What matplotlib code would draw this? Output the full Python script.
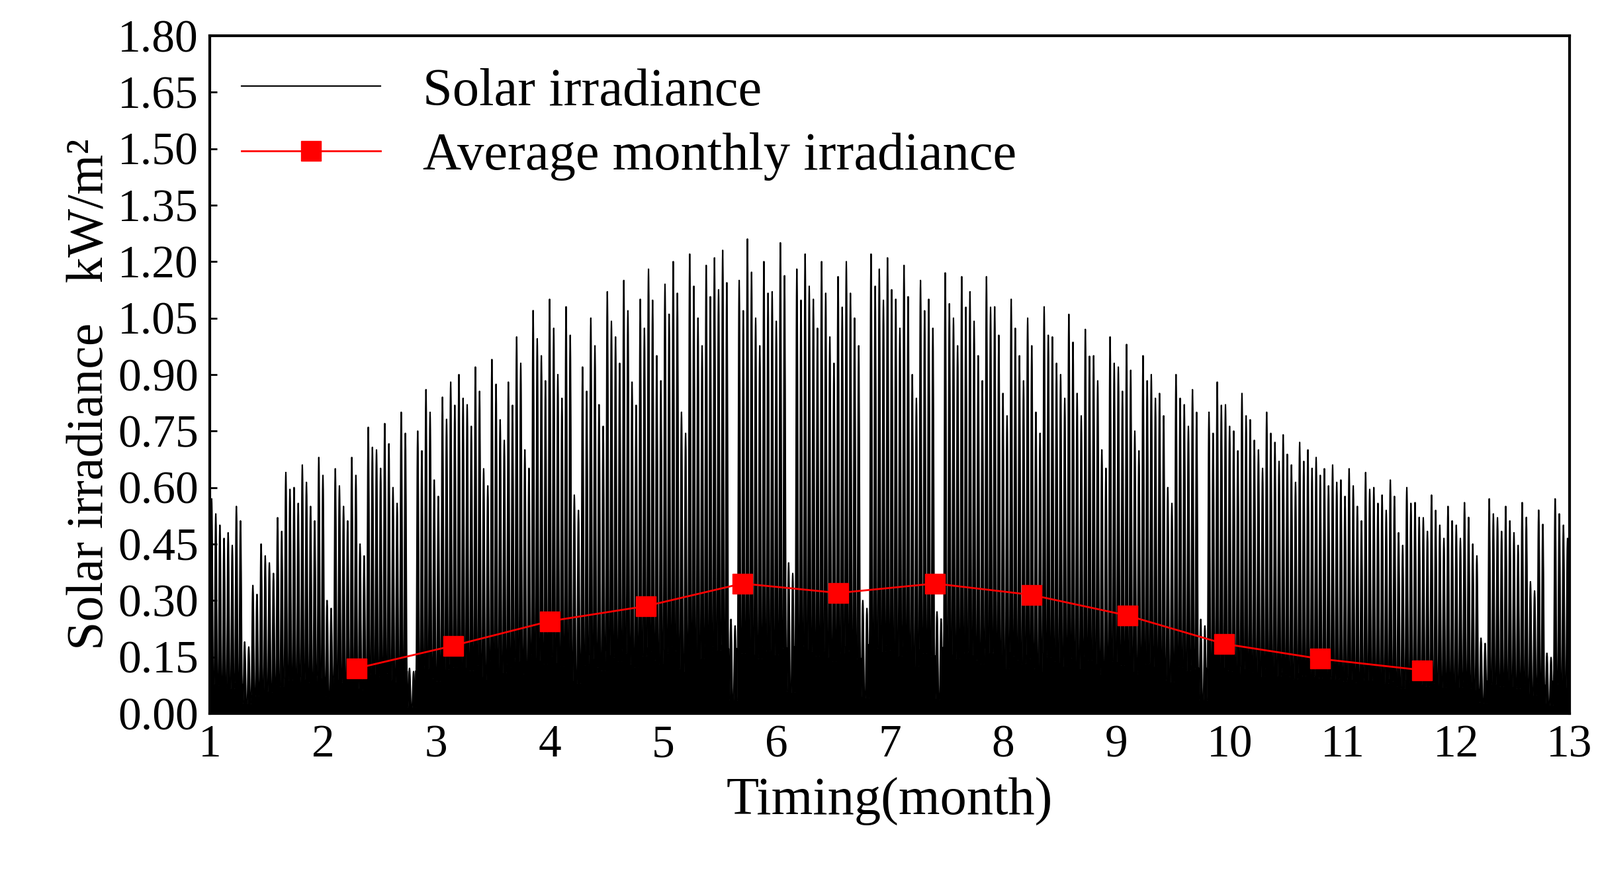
import numpy as np
import matplotlib.pyplot as plt

plt.rcParams.update({'font.family': ['Liberation Serif', 'Noto Sans CJK SC'], 'font.size': 34})

######## data ########

# daily peak irradiance (kW/m2), one value per two days, 15 values per month
peaks_2day = [
    0.57, 0.50, 0.48, 0.55, 0.19, 0.34, 0.45, 0.40, 0.52, 0.64, 0.60, 0.66, 0.55, 0.68, 0.30,
    0.65, 0.55, 0.68, 0.45, 0.76, 0.70, 0.77, 0.60, 0.80, 0.12, 0.75, 0.86, 0.62, 0.84, 0.88,
    0.90, 0.82, 0.92, 0.65, 0.94, 0.78, 0.88, 1.00, 0.70, 1.07, 0.95, 1.10, 0.90, 1.08, 0.58,
    0.92, 1.05, 0.82, 1.12, 1.00, 1.15, 0.88, 1.10, 1.18, 0.95, 1.14, 1.20, 0.80, 1.22, 1.05,
    1.19, 1.21, 1.23, 0.25, 1.15, 1.26, 1.05, 1.20, 1.12, 1.25, 0.40, 1.18, 1.22, 1.10, 1.20,
    1.00, 1.16, 1.20, 1.05, 0.30, 1.22, 1.18, 1.21, 1.10, 1.19, 0.90, 1.15, 1.10, 0.27, 1.17,
    1.05, 1.16, 1.12, 0.95, 1.16, 1.08, 0.85, 1.10, 0.95, 1.05, 0.80, 1.08, 1.00, 0.90, 1.06,
    0.85, 1.02, 0.95, 0.70, 1.00, 0.92, 0.98, 0.75, 0.95, 0.90, 0.85, 0.60, 0.90, 0.82, 0.86,
    0.25, 0.80, 0.88, 0.82, 0.75, 0.85, 0.78, 0.70, 0.80, 0.72, 0.74, 0.66, 0.72, 0.70, 0.68,
    0.65, 0.66, 0.62, 0.65, 0.55, 0.64, 0.60, 0.58, 0.62, 0.48, 0.60, 0.56, 0.52, 0.58, 0.50,
    0.55, 0.50, 0.56, 0.45, 0.20, 0.57, 0.52, 0.55, 0.48, 0.56, 0.35, 0.54, 0.16, 0.57, 0.50,
]
# second day of each pair, relative to the first (breaks up the blocky look)
pair_ratio = [1.0, 0.93]
# hourly shape of a day, relative to its peak
day_profile = [0.15, 0.15, 0.15, 0.15, 0.2, 0.3, 0.45, 0.6, 0.75, 0.86, 0.94, 0.98,
               1.0, 0.98, 0.94, 0.86, 0.75, 0.6, 0.45, 0.3, 0.2, 0.15, 0.15, 0.15]

avg_month = [2.3, 3.15, 4.0, 4.85, 5.7, 6.55, 7.4, 8.25, 9.1, 9.95, 10.8, 11.7]
avg_value = [0.12, 0.18, 0.245, 0.285, 0.345, 0.32, 0.345, 0.315, 0.26, 0.185, 0.145, 0.115]

######## hourly series ########

daily = np.concatenate([[p * r for r in pair_ratio] for p in peaks_2day])
hourly = np.concatenate([p * np.array(day_profile) for p in daily])
t = 1 + 12 * np.arange(len(hourly)) / len(hourly)

######## plot ########

fig = plt.figure(figsize=(24.18, 13.13), dpi=100)
ax = fig.add_axes([0.131, 0.179, 0.85, 0.78])
ax.fill_between(t, 0, hourly, color='black', lw=0)
ax.plot(t, hourly, color='black', lw=1.5, label='Solar irradiance')
ax.plot(avg_month, avg_value, color='red', lw=2, marker='s', markersize=22,
        label='Average monthly irradiance')

ax.set_xlim(1, 13)
ax.set_ylim(0, 1.8)
ax.set_xticks(range(1, 14))
ax.set_yticks(np.arange(0, 1.81, 0.15))
ax.yaxis.set_major_formatter(plt.FormatStrFormatter('%.2f'))
ax.tick_params(direction='in', length=8, width=2, labelsize=50, pad=12)
for s in ax.spines.values():
    s.set_linewidth(3)
ax.set_xlabel('Timing(month)', fontsize=58, labelpad=12)
ax.set_ylabel('Solar irradiance\uff08kW/m\u00b2\uff09', fontsize=56)
ax.legend(loc='upper left', frameon=False, fontsize=58, handlelength=2.6,
          borderaxespad=0.2, labelspacing=0.3)

plt.savefig('out.png')
